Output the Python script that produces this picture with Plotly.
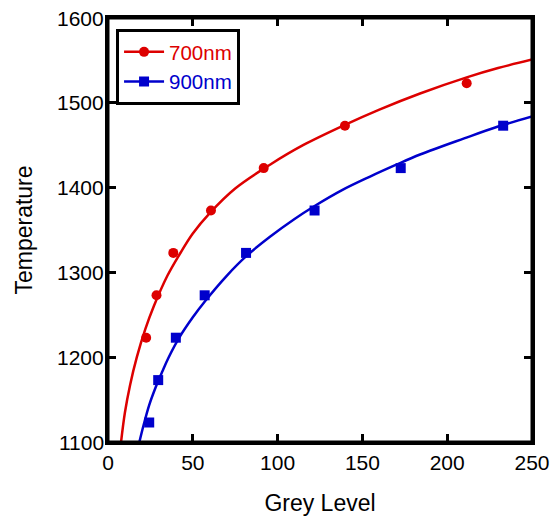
import plotly.graph_objects as go

# Measured data points
g700 = [22.5, 28.6, 38.5, 60.7, 91.8, 139.7, 211.5]
t700 = [1223, 1273, 1323, 1373, 1423, 1473, 1523]
g900 = [24.3, 29.6, 40.0, 57.0, 81.4, 121.8, 172.6, 233.0]
t900 = [1123, 1173, 1223, 1273, 1323, 1373, 1423, 1473]

# Fitted curves
fit700_g = [7.7, 10, 13, 17, 22, 27, 35, 42.4, 50, 60, 75, 95.5, 115, 139.7, 160, 184, 211.5, 230, 250]
fit700_t = [1100, 1135, 1167, 1200, 1233, 1260, 1296, 1322, 1346, 1370, 1399, 1427, 1450, 1474, 1492, 1511, 1530, 1541, 1551]
fit900_g = [18.5, 21, 24.2, 28, 32, 35.6, 42, 50, 57.2, 70, 82, 95.5, 110, 121.6, 138, 154.5, 170, 184, 210, 230, 250]
fit900_t = [1100, 1120, 1143, 1164, 1183, 1199, 1223, 1247, 1266, 1296, 1320, 1342, 1363, 1378, 1397, 1413, 1427, 1439, 1458, 1472, 1484]

x_ticks = [0, 50, 100, 150, 200, 250]
y_ticks = [1100, 1200, 1300, 1400, 1500, 1600]

RED = "#dd0000"
BLUE = "#0000cc"
FONT = "Liberation Sans, Arial, sans-serif"

fig = go.Figure()
fig.add_trace(go.Scatter(x=fit700_g, y=fit700_t, mode="lines", line=dict(color=RED, width=2.5, shape="spline"),
                         showlegend=False, hoverinfo="skip"))
fig.add_trace(go.Scatter(x=fit900_g, y=fit900_t, mode="lines", line=dict(color=BLUE, width=2.5, shape="spline"),
                         showlegend=False, hoverinfo="skip"))
fig.add_trace(go.Scatter(x=g700, y=t700, mode="markers", marker=dict(color=RED, size=10, symbol="circle"),
                         showlegend=False))
fig.add_trace(go.Scatter(x=g900, y=t900, mode="markers", marker=dict(color=BLUE, size=10, symbol="square"),
                         showlegend=False))
# legend entries
fig.add_trace(go.Scatter(x=[None], y=[None], mode="lines+markers",
                         line=dict(color=RED, width=2.5), marker=dict(color=RED, size=10, symbol="circle"),
                         name=f'<span style="color:{RED}">700nm</span>'))
fig.add_trace(go.Scatter(x=[None], y=[None], mode="lines+markers",
                         line=dict(color=BLUE, width=2.5), marker=dict(color=BLUE, size=10, symbol="square"),
                         name=f'<span style="color:{BLUE}">900nm</span>'))

axis_common = dict(showline=True, linecolor="black", linewidth=3, mirror="ticks",
                   ticks="inside", ticklen=8, tickwidth=2.5, tickcolor="black",
                   showgrid=False, zeroline=False, automargin=False,
                   ticklabeloverflow="allow",
                   tickfont=dict(family=FONT, size=21, color="black"))

# y tick labels as annotations placed through the y scale, right-aligned next to the axis
y_labels = [dict(x=0, xref="paper", xanchor="right", xshift=-2, y=v, yref="y", yanchor="middle",
                 text=str(v), showarrow=False, font=dict(family=FONT, size=21, color="black"))
            for v in y_ticks]

fig.update_layout(
    width=558, height=518,
    margin=dict(l=100, r=34, t=10, b=84),
    paper_bgcolor="white", plot_bgcolor="white",
    font=dict(family=FONT, size=20, color="black"),
    xaxis=dict(range=[0, 250], tickvals=x_ticks,
               title=dict(text="Grey Level", font=dict(family=FONT, size=23), standoff=22),
               **axis_common),
    yaxis=dict(range=[1100, 1600], tickvals=y_ticks, showticklabels=False,
               title=dict(text="Temperature", font=dict(family=FONT, size=23), standoff=66),
               **axis_common),
    annotations=y_labels,
    shapes=[dict(type="rect", xref="paper", yref="paper", x0=0, x1=1, y0=0, y1=1,
                 line=dict(color="black", width=3), layer="above")],
    legend=dict(x=0.019, y=0.974, xanchor="left", yanchor="top",
                bordercolor="black", borderwidth=3, bgcolor="white", itemwidth=40,
                font=dict(family=FONT, size=20.5)),
)

fig.write_html("out.html")
